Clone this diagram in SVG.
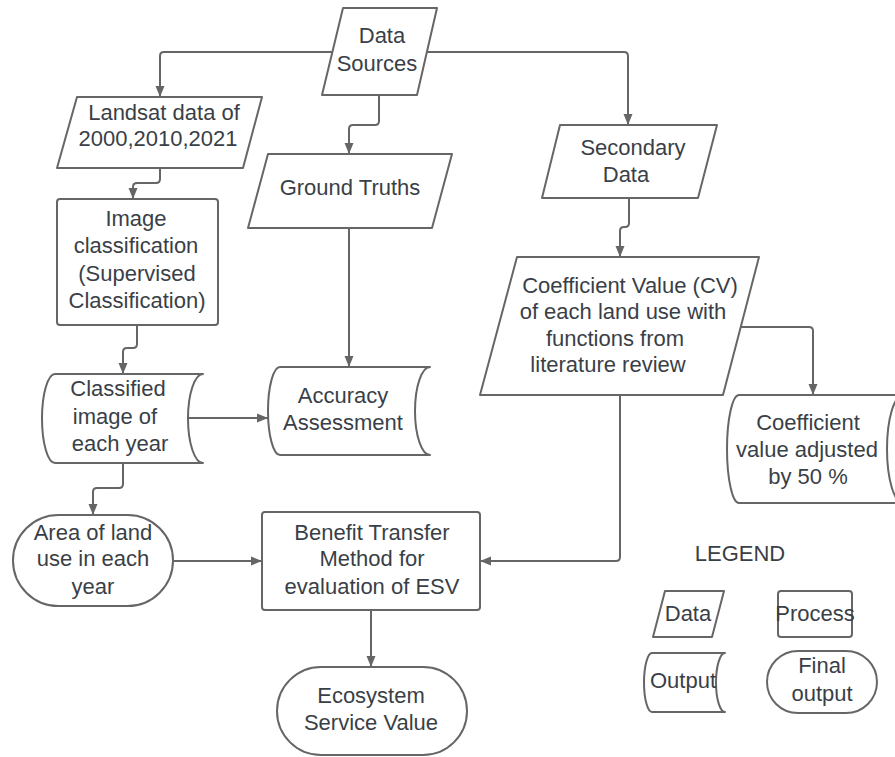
<svg xmlns="http://www.w3.org/2000/svg" width="895" height="757" viewBox="0 0 895 757">
<style>
.s{fill:#fff;stroke:#666;stroke-width:2;stroke-linejoin:round}
.c{fill:none;stroke:#666;stroke-width:2;stroke-linejoin:round}
text{font-family:"Liberation Sans",Arial,sans-serif;font-size:22px;fill:#3a3f47;text-anchor:middle}
</style>
<defs>
<marker id="ah" markerUnits="userSpaceOnUse" markerWidth="12" markerHeight="12" viewBox="0 0 12 12" refX="11" refY="6" orient="auto">
<path d="M0,1.5 L11,6 L0,10.5 Z" fill="#666"/>
</marker>
</defs>
<rect width="895" height="757" fill="#fff"/>
<g id="connectors">
<path class="c" d="M333,52 L164,52 Q160,52 160,56 L160,97" marker-end="url(#ah)"/>
<path class="c" d="M427,52 L624,52 Q628,52 628,56 L628,125" marker-end="url(#ah)"/>
<path class="c" d="M379,95 L379,121 Q379,125 375,125 L353,125 Q349,125 349,129 L349,154" marker-end="url(#ah)"/>
<path class="c" d="M160,168 L160,179 Q160,183 156,183 L137,183 Q133,183 133,187 L133,199" marker-end="url(#ah)"/>
<path class="c" d="M137,325 L137,344 Q137,348 133,348 L127,348 Q123,348 123,352 L123,374" marker-end="url(#ah)"/>
<path class="c" d="M349,228 L349,367" marker-end="url(#ah)"/>
<path class="c" d="M188,418 L268,418" marker-end="url(#ah)"/>
<path class="c" d="M123,463 L123,484 Q123,488 119,488 L97,488 Q93,488 93,492 L93,515" marker-end="url(#ah)"/>
<path class="c" d="M173,561 L262,561" marker-end="url(#ah)"/>
<path class="c" d="M620,395 L620,557 Q620,561 616,561 L480,561" marker-end="url(#ah)"/>
<path class="c" d="M371,610 L371,667" marker-end="url(#ah)"/>
<path class="c" d="M629,198 L629,223 Q629,227 625,227 L624,227 Q620,227 620,231 L620,257" marker-end="url(#ah)"/>
<path class="c" d="M741,327 L809,327 Q813,327 813,331 L813,395" marker-end="url(#ah)"/>
</g>
<g id="data-sources">
<path class="s" d="M343,8 L437,8 L417,95 L322,95 Z"/>
<text x="382" y="43">Data</text>
<text x="377" y="71">Sources</text>
</g>
<g id="landsat">
<path class="s" d="M77,97 L262,97 L243,168 L57,168 Z"/>
<text x="164" y="120">Landsat data of</text>
<text x="158" y="146">2000,2010,2021</text>
</g>
<g id="ground-truths">
<path class="s" d="M268,154 L452,154 L432,228 L248,228 Z"/>
<text x="350" y="195">Ground Truths</text>
</g>
<g id="secondary-data">
<path class="s" d="M560,125 L717,125 L698,198 L542,198 Z"/>
<text x="633" y="155">Secondary</text>
<text x="626" y="182">Data</text>
</g>
<g id="image-classification">
<rect class="s" x="57" y="199" width="161" height="126" rx="3"/>
<text x="136" y="226">Image</text>
<text x="136" y="253">classification</text>
<text x="137" y="281">(Supervised</text>
<text x="137" y="308">Classification)</text>
</g>
<g id="coefficient-value">
<path class="s" d="M517,257 L759,257 L723,395 L480,395 Z"/>
<text x="630" y="293">Coefficient Value (CV)</text>
<text x="623" y="319">of each land use with</text>
<text x="615" y="346">functions from</text>
<text x="608" y="372">literature review</text>
</g>
<g id="classified-image">
<path class="s" d="M55,374 L203,374 A15,44.5 0 0 0 203,463 L55,463 A13,44.5 0 0 1 55,374 Z"/>
<text x="118" y="396">Classified</text>
<text x="115" y="424">image of</text>
<text x="120" y="451">each year</text>
</g>
<g id="accuracy-assessment">
<path class="s" d="M280,367 L430,367 A15,44 0 0 0 430,455 L280,455 A12,44 0 0 1 280,367 Z"/>
<text x="343" y="403">Accuracy</text>
<text x="343" y="430">Assessment</text>
</g>
<g id="coefficient-adjusted">
<path class="s" d="M739,395 L903,395 A16,54 0 0 0 903,503 L739,503 A12,54 0 0 1 739,395 Z"/>
<text x="808" y="430">Coefficient</text>
<text x="807" y="457">value adjusted</text>
<text x="808" y="484">by 50 %</text>
</g>
<g id="area-land-use">
<rect class="s" x="13" y="515" width="160" height="91" rx="45.5"/>
<text x="93" y="540">Area of land</text>
<text x="93" y="566">use in each</text>
<text x="93" y="594">year</text>
</g>
<g id="benefit-transfer">
<rect class="s" x="262" y="512" width="218" height="98" rx="3"/>
<text x="372" y="540">Benefit Transfer</text>
<text x="372" y="566">Method for</text>
<text x="372" y="594">evaluation of ESV</text>
</g>
<g id="ecosystem-service-value">
<rect class="s" x="277" y="667" width="190" height="88" rx="44"/>
<text x="371" y="703">Ecosystem</text>
<text x="371" y="730">Service Value</text>
</g>
<g id="legend">
<text x="740" y="561">LEGEND</text>
<g id="legend-data">
<path class="s" d="M665,591 L724,591 L712,637 L653,637 Z"/>
<text x="688" y="621">Data</text>
</g>
<g id="legend-process">
<rect class="s" x="778" y="591" width="74" height="46" rx="3"/>
<text x="815" y="621">Process</text>
</g>
<g id="legend-output">
<path class="s" d="M652,653 L725,653 A9,29.5 0 0 0 725,712 L652,712 A8,29.5 0 0 1 652,653 Z"/>
<text x="683" y="688">Output</text>
</g>
<g id="legend-final-output">
<rect class="s" x="767" y="651" width="110" height="62" rx="31"/>
<text x="822" y="673">Final</text>
<text x="822" y="701">output</text>
</g>
</g>
</svg>
